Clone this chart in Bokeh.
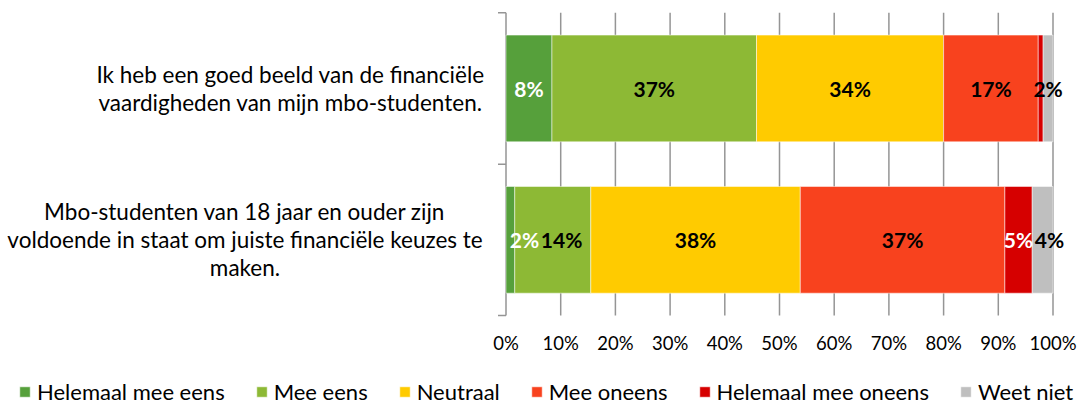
from bokeh.plotting import figure
from bokeh.models import ColumnDataSource, Range1d, Legend, LegendItem
from bokeh.core.properties import value
from bokeh.embed import file_html
from bokeh.resources import INLINE

# ---------------- data ----------------
categories = [
    "Ik heb een goed beeld van de financiële\nvaardigheden van mijn mbo-studenten.",
    "Mbo-studenten van 18 jaar en ouder zijn\nvoldoende in staat om juiste financiële keuzes te\nmaken.",
]
series = ["Helemaal mee eens", "Mee eens", "Neutraal", "Mee oneens",
          "Helemaal mee oneens", "Weet niet"]
helemaal_mee_eens = [8.4, 1.6]
mee_eens = [37.4, 13.9]
neutraal = [34.2, 38.3]
mee_oneens = [17.3, 37.4]
helemaal_mee_oneens = [0.9, 5.0]
weet_niet = [1.8, 3.8]
x_ticks = [0, 10, 20, 30, 40, 50, 60, 70, 80, 90, 100]
x_tick_labels = [f"{t}%" for t in x_ticks]

# ---------------- style / layout ----------------
colors = ["#56A03B", "#8DB935", "#FFCB00", "#F8421E", "#D60000", "#BFBFBF"]
label_colors = ["white", "black", "black", "black", "white", "black"]
FONT = "Lato"
GRID = "#959595"
LABEL_FS = 21

W, H = 1080, 406
X0_PX = 505.5          # canvas x of 0 %
PX_PER_PCT = 5.47
Y0_PX, Y2_PX = 315.0, 12.3   # canvas y of outer band edges (bottom, top)
PX_PER_BAND = (Y0_PX - Y2_PX) / 2

values = [helemaal_mee_eens, mee_eens, neutraal, mee_oneens,
          helemaal_mee_oneens, weet_niet]
n = len(categories)
ypos = [n - i - 0.5 for i in range(n)]

p = figure(width=W, height=H, output_backend="svg", toolbar_location=None,
           x_axis_location=None, y_axis_location=None,
           x_range=Range1d(-X0_PX / PX_PER_PCT, (W - X0_PX) / PX_PER_PCT),
           y_range=Range1d(-(H - Y0_PX) / PX_PER_BAND, Y0_PX / PX_PER_BAND),
           min_border=0)
p.outline_line_color = None
p.background_fill_color = "white"
p.border_fill_color = "white"
p.xgrid.visible = False
p.ygrid.visible = False

# vertical gridlines (only across the plot area) and the category axis
p.segment(x0=x_ticks, x1=x_ticks, y0=[0] * len(x_ticks), y1=[n] * len(x_ticks),
          line_color=GRID, line_width=1.5)
edges = list(range(n + 1))
tick_len = 8 / PX_PER_PCT
p.segment(x0=[-tick_len] * len(edges), x1=[0] * len(edges), y0=edges, y1=edges,
          line_color=GRID, line_width=1.5)

# value-axis tick labels
p.text(x=x_ticks, y=[0] * len(x_ticks), text=x_tick_labels, y_offset=27.5,
       text_align="center", text_baseline="middle", text_font=value(FONT),
       text_font_size="18.5px", text_color="black")

# bars
src = ColumnDataSource(dict(y=ypos, **{s: v for s, v in zip(series, values)}))
renderers = p.hbar_stack(series, y="y", height=0.705, color=colors,
                         line_color="white", line_width=0.5, source=src)

# data labels, nudged right (like the original) so that they do not overlap
def label_width(t):
    return sum(0.8 if ch == "%" else 0.58 for ch in t) * LABEL_FS

lx, ly, lt, lc, ldx = [], [], [], [], []
for j in range(n):
    left = 0.0
    prev_right = X0_PX + 2
    for i, s in enumerate(series):
        v = values[i][j]
        if v >= 1:
            t = f"{round(v)}%"
            cx = X0_PX + (left + v / 2) * PX_PER_PCT
            w = label_width(t)
            lft = max(cx - w / 2, prev_right + 2)
            ldx.append(lft + w / 2 - cx)
            prev_right = lft + w
            lx.append(left + v / 2)
            ly.append(ypos[j])
            lt.append(t)
            lc.append(label_colors[i])
        left += v
lab_src = ColumnDataSource(dict(x=lx, y=ly, text=lt, color=lc, dx=ldx))
p.text(x="x", y="y", text="text", text_color="color", x_offset="dx",
       source=lab_src, text_align="center", text_baseline="middle",
       text_font=value(FONT), text_font_size=f"{LABEL_FS}px",
       text_font_style="bold")

# category labels
cat_x = [(290 - X0_PX) / PX_PER_PCT, (244.5 - X0_PX) / PX_PER_PCT]
p.text(x=cat_x, y=ypos, text=categories, text_align="center",
       text_baseline="middle", text_font=value(FONT), text_font_size="22.5px",
       text_line_height=1.04, text_color="black")

# legend
legend = Legend(items=[LegendItem(label=s, renderers=[r]) for s, r in zip(series, renderers)],
                orientation="horizontal", location=(18, 1),
                glyph_width=13, glyph_height=13, label_standoff=6, spacing=30,
                padding=0, margin=0, border_line_color=None,
                background_fill_alpha=0, label_height=22,
                label_text_font=FONT, label_text_font_size="22px",
                label_text_color="black")
p.add_layout(legend)

open("out.html", "w").write(file_html(p, INLINE))
